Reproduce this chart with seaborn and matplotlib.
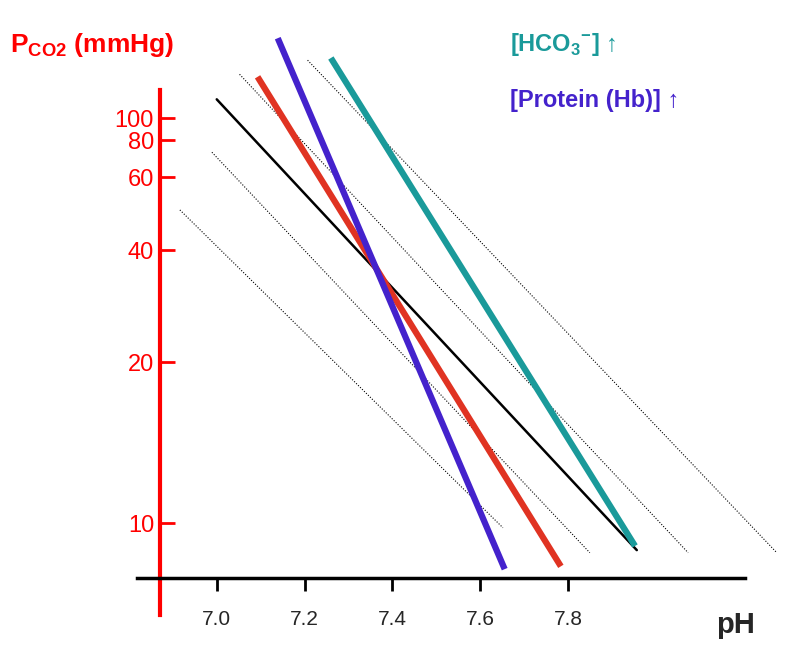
import numpy as np
import matplotlib
matplotlib.use('Agg')
import matplotlib.pyplot as plt
import seaborn as sns

# === DATA ===
ph_black = [7.000, 7.957]; pco2_black = [121, 8.9]
ph_red = [7.093, 7.784]; pco2_red = [152, 8.3]
ph_blue = [7.139, 7.656]; pco2_blue = [225, 8.2]
ph_teal = [7.260, 7.953]; pco2_teal = [184, 9.06]
iso_ph = [[6.916, 7.652], [6.989, 7.850], [7.052, 8.074], [7.207, 8.276]]
iso_pco2 = [[50, 9.8], [72.8, 8.8], [156, 8.8], [180, 8.8]]
y_ticks = [10, 20, 40, 60, 80, 100]
x_ticks = [7.0, 7.2, 7.4, 7.6, 7.8]

# the drawn y axis is a hand-made, roughly logarithmic scale
knot_log = np.log10(y_ticks)
knot_u = np.array([0, 161, 273, 346, 383, 405], dtype=float)
lo_slope = 161 / (knot_log[1] - knot_log[0])
hi_slope = 22 / (knot_log[-1] - knot_log[-2])

def fwd(v):
    l = np.log10(np.clip(v, 1e-3, None))
    u = np.interp(l, knot_log, knot_u)
    u = np.where(l < knot_log[0], (l - knot_log[0]) * lo_slope, u)
    u = np.where(l > knot_log[-1], knot_u[-1] + (l - knot_log[-1]) * hi_slope, u)
    return u

def inv(u):
    u = np.asarray(u, dtype=float)
    l = np.interp(u, knot_u, knot_log)
    l = np.where(u < 0, knot_log[0] + u / lo_slope, l)
    l = np.where(u > knot_u[-1], knot_log[-1] + (u - knot_u[-1]) / hi_slope, l)
    return 10 ** l

sns.set_style('white')
plt.rcParams['font.family'] = ['Liberation Sans', 'DejaVu Sans']
plt.rcParams['mathtext.fontset'] = 'custom'
plt.rcParams['mathtext.rm'] = 'Liberation Sans'
plt.rcParams['mathtext.bf'] = 'Liberation Sans:bold'

fig = plt.figure(figsize=(8.05, 6.52), dpi=100)
ax = fig.add_axes([0.170, 0.0567, 0.795, 0.897])
ax.set_yscale('function', functions=(fwd, inv))
ax.set_xlim(6.818, 8.276)
ax.set_ylim(6.73, 244)

for xs, ys in zip(iso_ph, iso_pco2):
    ax.plot(xs, ys, color='black', lw=0.8, ls=(0, (1, 1.5)))
ax.plot(ph_black, pco2_black, color='black', lw=1.8)
ax.plot(ph_red, pco2_red, color='#e03322', lw=4.5, solid_capstyle='butt')
ax.plot(ph_blue, pco2_blue, color='#4422cc', lw=4.5, solid_capstyle='butt')
ax.plot(ph_teal, pco2_teal, color='#1a9a9a', lw=4.5, solid_capstyle='butt')

for s in ['top', 'right']:
    ax.spines[s].set_visible(False)
ax.spines['bottom'].set_position(('data', 7.89))
ax.spines['bottom'].set_bounds(6.818, 8.203)
ax.spines['bottom'].set_linewidth(2.5)
ax.spines['bottom'].set_color('black')
ax.spines['left'].set_position(('data', 6.870))
ax.spines['left'].set_bounds(6.73, 133)
ax.spines['left'].set_linewidth(3)
ax.spines['left'].set_color('#ff0000')

ax.set_xticks(x_ticks)
ax.set_xticklabels([f'{t:.1f}' for t in x_ticks])
ax.set_yticks(y_ticks)
ax.set_yticklabels([str(t) for t in y_ticks])
ax.minorticks_off()
ax.tick_params(axis='x', direction='out', length=9, width=2, color='black',
               labelsize=15, pad=14, bottom=True)
ax.tick_params(axis='y', direction='in', length=11, width=2, color='#ff0000',
               labelcolor='#ff0000', labelsize=17, pad=4, left=True)

fig.text(10 / 805, 1 - 45 / 652, r'$\mathbf{P_{CO2}}$ (mmHg)', color='#ff0000',
         fontsize=19, fontweight='bold', va='center')
fig.text(736 / 805, 1 - 625 / 652, 'pH', fontsize=21, fontweight='bold',
         va='center', ha='center')
fig.text(510 / 805, 1 - 45 / 652, r'[HCO$_\mathbf{3}$$^\mathbf{-}$] ↑', color='#1a9a9a',
         fontsize=17, fontweight='bold', va='center')
fig.text(510 / 805, 1 - 100 / 652, '[Protein (Hb)] ↑', color='#4422cc',
         fontsize=17, fontweight='bold', va='center')

fig.savefig('out.png', dpi=100)
